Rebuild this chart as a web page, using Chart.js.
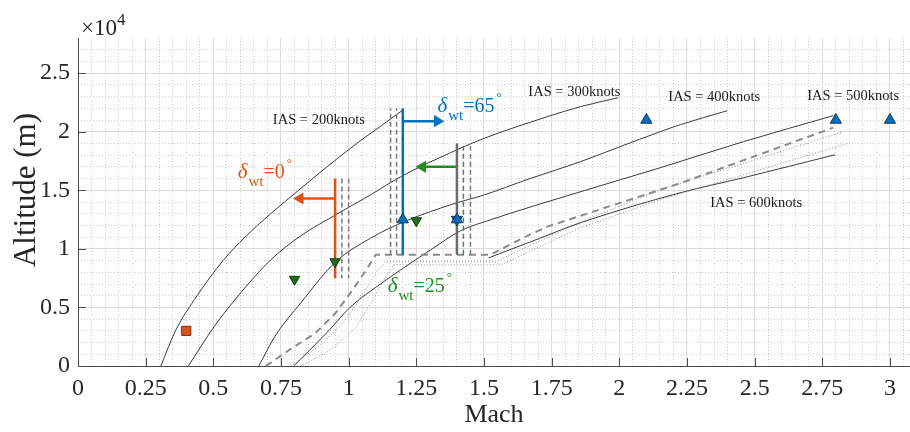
<!DOCTYPE html>
<html>
<head>
<meta charset="utf-8">
<script src="https://cdn.jsdelivr.net/npm/chart.js@4.4.1/dist/chart.umd.min.js"></script>
<style>
  body { margin: 0; background: #fff; }
</style>
</head>
<body>
<canvas id="envChart" width="910" height="432"></canvas>
<script>
// axis ticks
const machTicks = [0, 0.25, 0.5, 0.75, 1, 1.25, 1.5, 1.75, 2, 2.25, 2.5, 2.75, 3];
const machTickLabels = ['0', '0.25', '0.5', '0.75', '1', '1.25', '1.5', '1.75', '2', '2.25', '2.5', '2.75', '3'];
const altTicks = [0, 5000, 10000, 15000, 20000, 25000];
const altTickLabels = ['0', '0.5', '1', '1.5', '2', '2.5'];

// constant IAS curves, [Mach, altitude m]
const ias200 = [[0.306, 0], [0.36, 3000], [0.44, 6000], [0.536, 9000], [0.617, 11000], [0.712, 13000],
  [0.815, 15000], [0.92, 17000], [1.03, 19000], [1.12, 20500], [1.203, 21900]];
const ias300 = [[0.408, 0], [0.502, 3333], [0.601, 6239], [0.712, 9060], [0.823, 11111], [0.952, 12906],
  [1.08, 14600], [1.192, 16154], [1.376, 18205], [1.487, 19316], [1.734, 21282], [1.856, 22137], [1.996, 22906]];
const ias400 = [[0.668, 0], [0.731, 2650], [0.823, 5385], [0.952, 8889], [1.08, 10900], [1.203, 12300],
  [1.402, 13950], [1.487, 14500], [1.67, 16000], [1.856, 17436], [2.0, 18700], [2.151, 20000], [2.225, 20600], [2.399, 21795]];
const ias500 = [[0.797, 0], [0.915, 2735], [1.007, 5043], [1.118, 7009], [1.203, 8376], [1.303, 9915],
  [1.413, 11538], [1.524, 12479], [1.856, 14872], [2.151, 16923], [2.458, 19145], [2.79, 21368]];
const ias600 = [[1.517, 9230], [1.672, 10598], [1.856, 12222], [2.225, 14786], [2.458, 16068], [2.797, 18034]];

// envelope boundaries
const envelopeDashed = [[0.694, 0], [0.786, 1453], [0.878, 2821], [0.952, 4530], [1.015, 6496], [1.063, 8120],
  [1.1, 9500], [1.524, 9500], [1.65, 11000], [1.734, 11900], [1.867, 12900], [2.225, 15600], [2.79, 20342]];
const envelopeDotA = [[0.786, 0], [0.897, 1795], [0.989, 3932], [1.052, 6068], [1.103, 8034], [1.137, 8889],
  [1.542, 8889], [1.856, 12308], [2.151, 15043], [2.827, 20000]];
const envelopeDotB = [[0.823, 0], [0.934, 1368], [1.026, 3248], [1.089, 5641], [1.137, 7607], [1.166, 8632],
  [1.561, 8632], [1.856, 11795], [2.151, 14188], [2.852, 19060]];

// tilt-angle cases
const orangeDrop = [[0.95, 16000], [0.95, 7500]];
const orangeArrow = [[0.95, 14300], [0.82, 14300]];
const orangeBoundA = [[0.975, 16000], [0.975, 7500]];
const orangeBoundB = [[1.0, 16000], [1.0, 7500]];
const blueRise = [[1.2, 9500], [1.2, 22000]];
const blueArrow = [[1.2, 20900], [1.328, 20900]];
const blueBoundA = [[1.155, 9500], [1.155, 22000]];
const blueBoundB = [[1.177, 9500], [1.177, 22000]];
const grayRise = [[1.4, 9500], [1.4, 19000]];
const greenArrow = [[1.4, 17000], [1.273, 17000]];
const greenBound = [[1.424, 9500], [1.424, 19000]];
const grayBound = [[1.45, 9500], [1.45, 19000]];

// test points
const orangeSquares = [[0.4, 3000]];
const greenDown = [[0.8, 7400], [0.95, 8900], [1.25, 12400]];
const blueUp = [[1.2, 12500], [1.4, 12500], [2.1, 21000], [2.8, 21000], [3.0, 21000]];
const blueDown = [[1.4, 12500]];

const iasLabels = [
  { text: 'IAS = 200knots', x: 0.72, y: 21026 },
  { text: 'IAS = 300knots', x: 1.664, y: 23333 },
  { text: 'IAS = 400knots', x: 2.181, y: 22906 },
  { text: 'IAS = 500knots', x: 2.694, y: 22991 },
  { text: 'IAS = 600knots', x: 2.336, y: 13932 }
];
const deltaLabels = [
  { angle: '0', x: 0.59, y: 16068, color: '#D95319' },
  { angle: '65', x: 1.328, y: 21709, color: '#0072BD' },
  { angle: '25', x: 1.144, y: 6325, color: '#1E8C1E' }
];

const SERIF = '"Liberation Serif", "Times New Roman", serif';
Chart.defaults.font.family = SERIF;

function pts(arr) {
  return arr.map(p => ({ x: p[0], y: p[1] }));
}

function lineSet(arr, color, width, dash, smooth) {
  return {
    data: pts(arr),
    showLine: true,
    borderColor: color,
    borderWidth: width,
    borderDash: dash || [],
    pointRadius: 0,
    pointHoverRadius: 0,
    cubicInterpolationMode: smooth ? 'monotone' : 'default',
    tension: 0,
    order: 5
  };
}

function arrowSet(arr, color, rot) {
  return {
    data: pts(arr),
    showLine: true,
    borderColor: color,
    borderWidth: 2.5,
    pointStyle: 'triangle',
    pointRadius: [0, 7],
    pointHoverRadius: [0, 7],
    rotation: [0, rot],
    pointBackgroundColor: color,
    pointBorderColor: color,
    pointBorderWidth: 0,
    order: 3
  };
}

function markerSet(arr, style, rot, fill, edge, r) {
  return {
    data: pts(arr),
    showLine: false,
    pointStyle: style,
    rotation: rot,
    pointRadius: r,
    pointHoverRadius: r,
    pointBackgroundColor: fill,
    pointBorderColor: edge,
    pointBorderWidth: 1,
    order: 1
  };
}

function minorTicks(step, max, major) {
  const out = [];
  for (let v = step; v < max; v += step) {
    const r = Math.round(v / step) * step;
    if (Math.abs(r / major - Math.round(r / major)) > 1e-6) out.push({ value: r });
  }
  return out;
}

const axisDecor = {
  id: 'axisDecor',
  beforeDatasetsDraw(chart) {
    const { ctx, chartArea, scales } = chart;
    ctx.save();
    ctx.strokeStyle = '#4d4d4d';
    ctx.lineWidth = 1;
    ctx.beginPath();
    machTicks.forEach(v => {
      const px = Math.round(scales.x.getPixelForValue(v)) + 0.5;
      ctx.moveTo(px, chartArea.bottom);
      ctx.lineTo(px, chartArea.bottom - 8);
    });
    altTicks.forEach(v => {
      const py = Math.round(scales.y.getPixelForValue(v)) + 0.5;
      ctx.moveTo(chartArea.left, py);
      ctx.lineTo(chartArea.left + 8, py);
    });
    ctx.stroke();
    ctx.restore();
  },
  afterDatasetsDraw(chart) {
    const { ctx, chartArea, scales } = chart;
    ctx.save();
    // exponent label
    ctx.fillStyle = '#262626';
    ctx.textAlign = 'left';
    ctx.textBaseline = 'alphabetic';
    ctx.font = '23px ' + SERIF;
    ctx.fillText('\u00d710', chartArea.left + 3, 35);
    const w = ctx.measureText('\u00d710').width;
    ctx.font = '17px ' + SERIF;
    ctx.fillText('4', chartArea.left + 3 + w, 25);

    // y axis title
    ctx.save();
    ctx.translate(27, 190);
    ctx.rotate(-Math.PI / 2);
    ctx.textAlign = 'center';
    ctx.textBaseline = 'middle';
    ctx.font = '31px ' + SERIF;
    ctx.fillText('Altitude (m)', 0, 0);
    ctx.restore();

    ctx.font = '14.5px ' + SERIF;
    ctx.fillStyle = '#1a1a1a';
    ctx.textAlign = 'left';
    ctx.textBaseline = 'middle';
    iasLabels.forEach(l => {
      ctx.fillText(l.text, scales.x.getPixelForValue(l.x), scales.y.getPixelForValue(l.y));
    });

    ctx.textBaseline = 'alphabetic';
    deltaLabels.forEach(l => {
      let px = scales.x.getPixelForValue(l.x);
      const py = scales.y.getPixelForValue(l.y);
      ctx.fillStyle = l.color;
      ctx.font = 'italic 21px ' + SERIF;
      ctx.fillText('\u03b4', px, py);
      px += ctx.measureText('\u03b4').width + 1;
      ctx.font = '15px ' + SERIF;
      ctx.fillText('wt', px, py + 8);
      px += ctx.measureText('wt').width;
      ctx.font = '20px ' + SERIF;
      ctx.fillText('=' + l.angle, px, py);
      px += ctx.measureText('=' + l.angle).width + 2;
      ctx.font = '13px ' + SERIF;
      ctx.fillText('\u00b0', px, py - 11);
    });
    ctx.restore();
  }
};

const ctx = document.getElementById('envChart').getContext('2d');
const X_MAX = 3.074;
const Y_MAX = 28000;

let envChart = new Chart(ctx, {
  type: 'scatter',
  data: {
    datasets: [
      markerSet(orangeSquares, 'rect', 0, '#D95319', '#7a2e0e', 6.5),
      markerSet(blueUp, 'triangle', 0, '#0072BD', '#17385a', 6.5),
      markerSet(blueDown, 'triangle', 180, '#1f5f9a', '#17385a', 6.5),
      markerSet(greenDown, 'triangle', 180, '#1f6e1f', '#0e3b0e', 6),
      arrowSet(orangeArrow, '#D95319', -90),
      arrowSet(blueArrow, '#0072BD', 90),
      arrowSet(greenArrow, '#1E8C1E', -90),
      Object.assign(lineSet(orangeDrop, '#D95319', 2.5), { order: 2 }),
      Object.assign(lineSet(blueRise, '#0072BD', 2.5), { order: 2 }),
      Object.assign(lineSet(grayRise, '#6b6b6b', 2.5), { order: 2 }),
      lineSet(orangeBoundA, '#7a7a7a', 1.5, [5, 3]),
      lineSet(orangeBoundB, '#7a7a7a', 1.5, [5, 3]),
      lineSet(blueBoundA, '#7a7a7a', 1.5, [5, 3]),
      lineSet(blueBoundB, '#7a7a7a', 1.5, [5, 3]),
      lineSet(greenBound, '#2e962e', 1.5, [5, 3]),
      lineSet(grayBound, '#7a7a7a', 1.5, [5, 3]),
      lineSet(envelopeDashed, '#8a8a8a', 2, [7, 5]),
      lineSet(envelopeDotA, '#8c8c8c', 1, [1, 2]),
      lineSet(envelopeDotB, '#8c8c8c', 1, [1, 2]),
      lineSet(ias200, '#3a3a3a', 1, [], true),
      lineSet(ias300, '#3a3a3a', 1, [], true),
      lineSet(ias400, '#3a3a3a', 1, [], true),
      lineSet(ias500, '#3a3a3a', 1, [], true),
      lineSet(ias600, '#3a3a3a', 1, [], true)
    ]
  },
  options: {
    responsive: false,
    animation: false,
    devicePixelRatio: 1,
    layout: { autoPadding: false, padding: { top: 38, right: 0, bottom: 0, left: 0 } },
    plugins: { legend: { display: false }, tooltip: { enabled: false } },
    scales: {
      x: {
        type: 'linear', position: 'bottom', min: 0, max: X_MAX,
        afterBuildTicks: s => { s.ticks = machTicks.map(v => ({ value: v })); },
        afterFit: s => { s.height = 66; },
        ticks: { callback: (v, i) => machTickLabels[i], font: { size: 24 }, color: '#262626', padding: 0, maxRotation: 0, autoSkip: false },
        grid: { color: c => (c.tick && c.tick.value === 0 ? 'rgba(0,0,0,0)' : '#dcdcdc'), drawTicks: true, tickLength: 8, tickColor: 'rgba(0,0,0,0)' },
        border: { display: true, color: '#4d4d4d', width: 1 },
        title: { display: true, text: 'Mach', font: { size: 26 }, color: '#262626', padding: { top: 0, bottom: 1 } }
      },
      y: {
        type: 'linear', position: 'left', min: 0, max: Y_MAX,
        afterBuildTicks: s => { s.ticks = altTicks.map(v => ({ value: v })); },
        afterFit: s => { s.width = 78; },
        ticks: { callback: (v, i) => altTickLabels[i], font: { size: 24 }, color: '#262626', padding: 8, autoSkip: false },
        grid: { color: c => (c.tick && c.tick.value === 0 ? 'rgba(0,0,0,0)' : '#dcdcdc'), drawTicks: false },
        border: { display: true, color: '#4d4d4d', width: 1 },
        title: { display: false }
      },
      xm: {
        type: 'linear', position: 'bottom', min: 0, max: X_MAX,
        afterBuildTicks: s => { s.ticks = minorTicks(0.05, X_MAX, 0.25); },
        afterFit: s => { s.height = 0; },
        ticks: { display: false },
        grid: { color: '#cccccc', drawTicks: false },
        border: { display: false, dash: [1, 2] }
      },
      ym: {
        type: 'linear', position: 'left', min: 0, max: Y_MAX,
        afterBuildTicks: s => { s.ticks = minorTicks(1000, Y_MAX, 5000); },
        afterFit: s => { s.width = 0; },
        ticks: { display: false },
        grid: { color: '#cccccc', drawTicks: false },
        border: { display: false, dash: [1, 2] }
      }
    }
  },
  plugins: [axisDecor]
});
</script>
</body>
</html>
